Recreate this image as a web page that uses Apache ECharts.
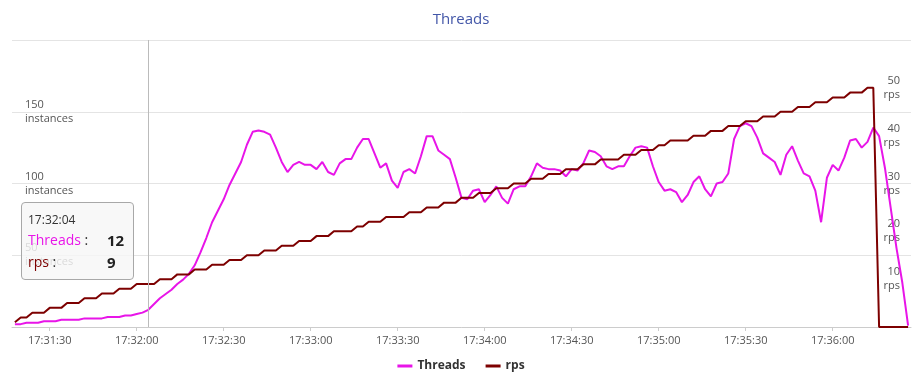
<!DOCTYPE html>
<html>
<head>
<meta charset="utf-8">
<script src="https://cdn.jsdelivr.net/npm/echarts@6/dist/echarts.min.js"></script>
<style>
html,body{margin:0;padding:0;background:#fff;}
#c{width:922px;height:382px;}
</style>
</head>
<body>
<div id="c"></div>
<script>
// ---- data ----
const startTime = '17:31:18';   // first sample
const stepSeconds = 2;          // sample spacing
const axisStart = '17:31:17';
const axisEnd = '17:36:27';
const tickLabels = ['17:31:30','17:32:00','17:32:30','17:33:00','17:33:30','17:34:00','17:34:30','17:35:00','17:35:30','17:36:00'];
const seriesNames = ['Threads', 'rps'];
const threads = [
  2,2,3,3,3,4,4,4,5,5,
  5,5,6,6,6,6,7,7,7,8,
  8,9,10,12,16,20,23,26,30,33,
  37,43,52,62,73,81,89,99,107,115,
  127,136,137,136,134,125,115,108,113,115,
  113,113,110,115,108,106,114,117,117,125,
  131,131,121,111,114,102,97,108,110,107,
  119,133,133,123,120,117,104,90,89,95,
  96,87,92,98,90,86,96,98,98,105,
  114,111,110,110,109,105,110,109,114,123,
  122,119,112,110,112,112,119,125,126,125,
  112,101,95,96,94,87,92,101,105,96,
  91,100,101,107,131,140,142,140,132,121,
  118,115,106,120,126,116,107,105,95,73,
  104,113,109,118,130,131,125,129,139,133,
  111,83,55,31,1
];
const rps = [
  1,2,2,3,3,3,4,4,4,5,
  5,5,6,6,6,7,7,7,8,8,
  8,9,9,9,9,10,10,10,11,11,
  11,12,12,12,13,13,13,14,14,14,
  15,15,15,16,16,16,17,17,17,18,
  18,18,19,19,19,20,20,20,20,21,
  21,22,22,22,23,23,23,23,24,24,
  24,25,25,25,26,26,26,27,27,27,
  28,28,28,29,29,29,30,30,30,31,
  31,31,32,32,32,33,33,33,34,34,
  34,35,35,35,35,36,36,36,37,37,
  37,38,38,39,39,39,39,40,40,40,
  41,41,41,42,42,42,43,43,43,44,
  44,44,45,45,45,46,46,46,47,47,
  47,48,48,48,49,49,49,50,50,0,
  0,0,0,0,0
];
const tooltipTime = '17:32:04';

// ---- helpers ----
function toMs(s) {
  const p = s.split(':').map(Number);
  return Date.UTC(2024, 0, 1, p[0], p[1], p[2]);
}
function fmt(ms) {
  const d = new Date(ms);
  const z = n => (n < 10 ? '0' : '') + n;
  return z(d.getUTCHours()) + ':' + z(d.getUTCMinutes()) + ':' + z(d.getUTCSeconds());
}
const t0 = toMs(startTime);
const times = threads.map((_, i) => t0 + i * stepSeconds * 1000);
const tickValues = tickLabels.map(toMs);
const tipIndex = times.indexOf(toMs(tooltipTime));

const FONT = "'Open Sans', 'Noto Sans', sans-serif";
const C_THREADS = '#e815e8';
const C_RPS = '#7d0000';

const chart = echarts.init(document.getElementById('c'), null, {renderer: 'canvas'});
const option = {
  animation: false,
  textStyle: {fontFamily: FONT},
  title: {
    text: 'Threads', left: 'center', top: 7,
    textStyle: {color: '#4256a8', fontSize: 15, fontWeight: 'normal', fontFamily: FONT}
  },
  legend: {
    data: seriesNames, bottom: 5, left: 'center',
    icon: 'rect', itemWidth: 15, itemHeight: 3, itemGap: 20,
    textStyle: {fontWeight: 'bold', fontSize: 12, color: '#333', fontFamily: FONT}
  },
  grid: {left: 12, right: 11, top: 40, bottom: 55, containLabel: false, outerBoundsMode: 'none'},
  tooltip: {
    trigger: 'axis', triggerOn: 'none', alwaysShowContent: true,
    position: [21, 202], transitionDuration: 0,
    backgroundColor: 'rgba(246,246,246,0.82)', borderColor: '#a8a8a8', borderWidth: 1, borderRadius: 4,
    padding: [8, 8, 6, 6],
    extraCssText: 'box-shadow:none;width:97px;',
    textStyle: {fontFamily: FONT},
    axisPointer: {type: 'line', animation: false, label: {show: false}, lineStyle: {color: '#bbb', width: 1, type: 'solid'}},
    formatter: function (params) {
      let html = '<div style="font-size:12px;line-height:18px;color:#333;">' + fmt(params[0].value[0]) + '</div>';
      html += '<table style="border-collapse:collapse;border-spacing:0;margin:0;">';
      params.forEach(function (p) {
        html += '<tr><td style="padding:0;width:79px;font-size:14px;line-height:22px;">' +
          '<span style="color:' + p.color + ';">' + p.seriesName + '</span><span style="color:#333;"> :</span></td>' +
          '<td style="padding:0;font-size:15px;line-height:22px;font-weight:bold;color:#222;">' + p.value[1] + '</td></tr>';
      });
      html += '</table>';
      return html;
    }
  },
  xAxis: {
    type: 'value', min: toMs(axisStart), max: toMs(axisEnd), scale: true,
    axisLine: {show: true, onZero: false, lineStyle: {color: '#ccc'}},
    axisTick: {show: true, length: 4, lineStyle: {color: '#ccc'}, customValues: tickValues},
    axisLabel: {
      customValues: tickValues,
      formatter: function (v) { return fmt(v); },
      color: '#555', fontSize: 11, fontFamily: FONT, margin: 8
    },
    splitLine: {show: false}
  },
  yAxis: [
    {
      type: 'value', min: 0, max: 200, interval: 50, position: 'left',
      axisLine: {show: false}, axisTick: {show: false},
      splitLine: {lineStyle: {color: '#e4e4e4'}},
      axisLabel: {
        inside: true, margin: 13, showMinLabel: false, showMaxLabel: false,
        formatter: function (v) { return v + '\ninstances'; },
        color: '#555', fontSize: 11, lineHeight: 14, fontFamily: FONT, align: 'left'
      }
    },
    {
      type: 'value', min: 0, max: 60, interval: 10, position: 'right',
      axisLine: {show: false}, axisTick: {show: false}, splitLine: {show: false},
      axisLabel: {
        inside: true, margin: 11, showMinLabel: false, showMaxLabel: false,
        formatter: function (v) { return v + '\nrps'; },
        color: '#555', fontSize: 11, lineHeight: 14, fontFamily: FONT, align: 'right'
      }
    }
  ],
  series: [
    {
      name: seriesNames[0], type: 'line', yAxisIndex: 0, symbol: 'none',
      data: times.map((t, i) => [t, threads[i]]),
      lineStyle: {color: C_THREADS, width: 2}, itemStyle: {color: C_THREADS},
      emphasis: {disabled: true}
    },
    {
      name: seriesNames[1], type: 'line', yAxisIndex: 1, symbol: 'none',
      data: times.map((t, i) => [t, rps[i]]),
      lineStyle: {color: C_RPS, width: 2}, itemStyle: {color: C_RPS},
      emphasis: {disabled: true}
    }
  ]
};
chart.setOption(option);
chart.dispatchAction({type: 'showTip', seriesIndex: 0, dataIndex: tipIndex});
</script>
</body>
</html>
